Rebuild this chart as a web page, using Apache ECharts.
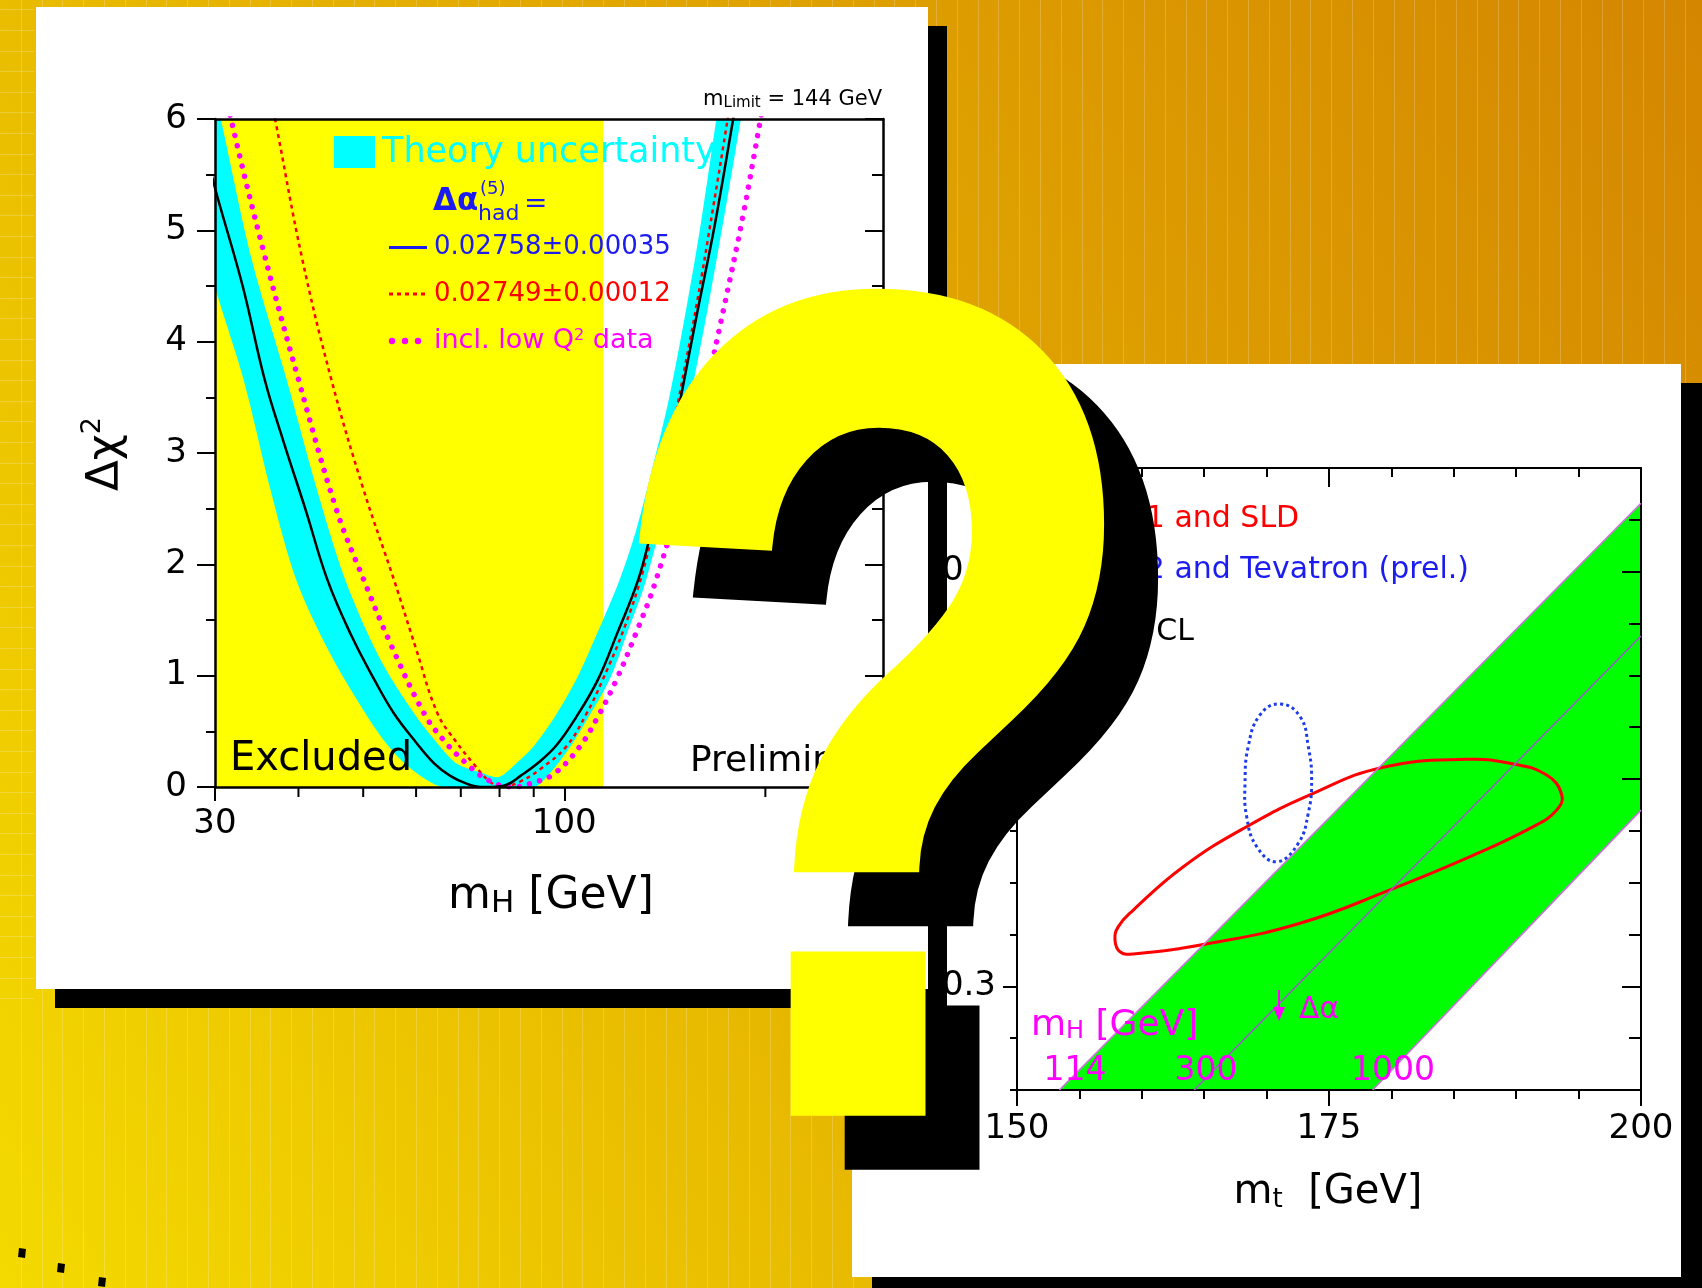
<!DOCTYPE html>
<html><head><meta charset="utf-8">
<script src="https://cdn.jsdelivr.net/npm/echarts@6/dist/echarts.min.js"></script>
<style>html,body{margin:0;padding:0;background:#e4b000;}#c{width:1702px;height:1288px;}</style>
</head><body><div id="c"></div>
<script>
// ================= LEFT CHART DATA  (Δχ² versus m_H, log axis) =================
const mhRange = [30, 300];
const chi2Range = [0, 6];
const mhMinorTicks = [40, 50, 60, 70, 80, 90, 200];
const excludedRange = [30, 114.4];
const curveBlack = [[29,5.75],[30,5.38],[33,4.50],[35.6,3.66],[38,3.10],[41,2.49],[44.2,1.86],[48,1.36],[52,0.96],[55.6,0.66],[60,0.40],[63.9,0.21],[67.5,0.10],[71.4,0.03],[75,0.0],[78,0.0],[82,0.02],[86,0.10],[91.5,0.22],[97.2,0.37],[104,0.62],[112.2,0.96],[120,1.38],[129,1.86],[135,2.30],[140.9,2.74],[147,3.28],[158,4.25],[168,5.05],[179,6.0],[190,6.9]];
const bandOuter = [[28,5.2],[30,4.49],[33.1,3.66],[36.5,2.62],[39.7,1.86],[44.5,1.21],[50.4,0.66],[54,0.40],[57.7,0.21],[62,0.07],[66,0.0],[90,0.0],[95,0.12],[102,0.36],[109,0.64],[116.8,0.96],[124.5,1.40],[132.6,1.86],[144.9,2.76],[155,3.55],[164,4.3],[175,5.25],[185,6.1],[195,6.9]];
const bandInner = [[29,6.6],[30.6,6.0],[34,4.75],[38.4,3.66],[42.5,2.70],[47,1.86],[53,1.15],[59.6,0.66],[64,0.42],[69,0.21],[75,0.13],[79.8,0.09],[85,0.22],[89.8,0.36],[97,0.64],[104.1,0.96],[112,1.38],[121,1.86],[128,2.30],[134.1,2.76],[143,3.45],[152.1,4.28],[160,5.05],[168.9,6.0],[178,6.9]];
const curveRed = [[35.5,6.5],[36.9,6.0],[40.5,4.75],[44.8,3.66],[50,2.68],[55.6,1.86],[60,1.24],[64.6,0.66],[69,0.40],[73.1,0.21],[77,0.06],[80.5,0.0],[86,0.05],[92,0.16],[100.6,0.36],[108,0.66],[114.1,0.96],[123,1.43],[131.3,1.95],[139.5,2.62],[148,3.45],[158,4.35],[167,5.2],[175.6,6.0],[185,6.9]];
const curveMagenta = [[30.5,6.5],[31.7,6.0],[35.5,4.80],[40,3.66],[45.6,2.49],[50.1,1.86],[55,1.28],[61.7,0.66],[66,0.42],[71.4,0.21],[77,0.06],[83.7,0.0],[90,0.04],[96.6,0.12],[105.4,0.36],[112,0.62],[119.6,0.96],[128,1.38],[137.2,1.86],[151.7,2.76],[162,3.5],[173,4.28],[185,5.12],[196.7,6.0],[205,6.6]];

// ================= RIGHT CHART DATA  (m_W versus m_t) =================
const mtRange = [150, 200];
const mwRange = [80.25, 80.55];
const mwTickLabels = [80.3, 80.4, 80.5];
const greenBand = [[153.4,80.25],[200,80.533],[200,80.385],[178.5,80.25]];
const lineMH114 = [[153.4,80.25],[200,80.533]];
const lineMH300 = [[164.2,80.25],[200,80.469]];
const lineMH1000 = [[178.5,80.25],[200,80.385]];
const contourLEP1SLD = [[172.68,80.3304],[179.89,80.3465],[186.03,80.3618],[191.37,80.3770],[193.25,80.3851],[193.65,80.3923],[192.44,80.4019],[189.5,80.4076],[186.03,80.4095],[179.35,80.4057],[173.74,80.3931],[168.4,80.3770],[163.33,80.3577],[159.32,80.3368],[158.12,80.3288],[157.85,80.3223],[158.25,80.3167],[159.32,80.3156],[165.47,80.3208]];
const contourLEP2Tev = [[173.61,80.3995],[173.34,80.4157],[172.68,80.4301],[171.07,80.4362],[169.47,80.4309],[168.53,80.4157],[168.27,80.3979],[168.4,80.3819],[169.21,80.3674],[170.81,80.3601],[172.54,80.3690],[173.34,80.3835]];

// ================= RENDER =================
const W = 1702, H = 1288;
const FONT = "'DejaVu Sans', sans-serif";
const chart = echarts.init(document.getElementById('c'), null, {renderer:'canvas', width:W, height:H});

function clipGroup(params, children){
  const cs = params.coordSys;
  return {type:'group', clipPath:{type:'rect', shape:{x:cs.x, y:cs.y, width:cs.width, height:cs.height}}, children};
}
const noAxis = {axisLine:{show:false}, axisTick:{show:false}, axisLabel:{show:false}, splitLine:{show:false}};
const lineS = (w)=>({color:'#000', width:w});

const deco = [];
// background
deco.push({type:'rect', z:0, silent:true, shape:{x:0,y:0,width:W,height:H},
  style:{fill:{type:'linear', x:0, y:H, x2:1802, y2:155, global:true,
    colorStops:[{offset:0,color:'#f4da00'},{offset:0.5,color:'#e3ac00'},{offset:1,color:'#d48600'}]}}});
for (let k=1; k*20.8 < W; k++) deco.push({type:'rect', z:1, silent:true, shape:{x:Math.round(k*20.8), y:0, width:1, height:H}, style:{fill:'rgba(255,255,255,0.2)'}});
for (let k=0; 9.4+k*20.6 < 1000; k++) deco.push({type:'rect', z:1, silent:true, shape:{x:0, y:Math.round(9.4+k*20.6), width:34, height:1}, style:{fill:'rgba(255,255,255,0.2)'}});
// dots bottom-left
[[22,1253],[61,1268],[102,1282]].forEach(c=>deco.push({type:'polygon', z:1, silent:true, shape:{points:[[c[0]-3,c[1]-5],[c[0]+4,c[1]-4],[c[0]+3,c[1]+5],[c[0]-4,c[1]+4]]}, style:{fill:'#000'}}));
// panels
deco.push({type:'rect', z:2, silent:true, shape:{x:872,y:383,width:830,height:920}, style:{fill:'#000'}});
deco.push({type:'rect', z:3, silent:true, shape:{x:852,y:364,width:829,height:913}, style:{fill:'#fff'}});
deco.push({type:'rect', z:7, silent:true, shape:{x:55,y:26,width:892,height:982}, style:{fill:'#000'}});
deco.push({type:'rect', z:8, silent:true, shape:{x:36,y:7,width:892,height:982}, style:{fill:'#fff'}});

const T = (o)=>Object.assign({type:'text', silent:true}, o);
// ---- left chart texts ----
deco.push({type:'rect', z:13, silent:true, shape:{x:334,y:136,width:41,height:32}, style:{fill:'#00ffff'}});
deco.push(T({z:13, x:382, y:153, style:{text:'Theory uncertainty', fontSize:35, fontFamily:FONT, fill:'#00ffff', align:'left', verticalAlign:'middle'}}));
deco.push(T({z:13, x:433, y:202, style:{text:'Δα', fontSize:31, fontWeight:'bold', fontFamily:FONT, fill:'#1c1cf0', align:'left', verticalAlign:'middle'}}));
deco.push(T({z:13, x:480, y:189, style:{text:'(5)', fontSize:18, fontFamily:FONT, fill:'#1c1cf0', align:'left', verticalAlign:'middle'}}));
deco.push(T({z:13, x:478, y:214, style:{text:'had', fontSize:22, fontFamily:FONT, fill:'#1c1cf0', align:'left', verticalAlign:'middle'}}));
deco.push(T({z:13, x:524, y:205, style:{text:'=', fontSize:28, fontFamily:FONT, fill:'#1c1cf0', align:'left', verticalAlign:'middle'}}));
deco.push({type:'line', z:13, silent:true, shape:{x1:389,y1:247.5,x2:427,y2:247.5}, style:{stroke:'#1c1cf0', lineWidth:3}});
deco.push(T({z:13, x:434, y:247, style:{text:'0.02758±0.00035', fontSize:26, fontFamily:FONT, fill:'#1c1cf0', align:'left', verticalAlign:'middle'}}));
deco.push({type:'line', z:13, silent:true, shape:{x1:389,y1:294,x2:425,y2:294}, style:{stroke:'#ff0000', lineWidth:3, lineDash:[4,4]}});
deco.push(T({z:13, x:434, y:294, style:{text:'0.02749±0.00012', fontSize:26, fontFamily:FONT, fill:'#ff0000', align:'left', verticalAlign:'middle'}}));
[392,405,418].forEach(cx=>deco.push({type:'circle', z:13, silent:true, shape:{cx, cy:341, r:3.2}, style:{fill:'#ff00ff'}}));
deco.push(T({z:13, x:434, y:341, style:{text:'{n|incl. low Q}{s|2}{n| data}', fontFamily:FONT, fill:'#ff00ff', align:'left', verticalAlign:'middle',
  rich:{n:{fontSize:27, lineHeight:27, verticalAlign:'bottom', fontFamily:FONT, fill:'#ff00ff'}, s:{fontSize:16, lineHeight:8, verticalAlign:'top', fontFamily:FONT, fill:'#ff00ff'}}}}));
deco.push(T({z:13, x:882, y:100, style:{text:'{n|m}{s|Limit}{n| = 144 GeV}', fontFamily:FONT, fill:'#000', align:'right', verticalAlign:'middle',
  rich:{n:{fontSize:21, lineHeight:21, verticalAlign:'top', fontFamily:FONT, fill:'#000'}, s:{fontSize:15, lineHeight:2, verticalAlign:'bottom', fontFamily:FONT, fill:'#000'}}}}));
deco.push(T({z:13, x:230, y:760, style:{text:'Excluded', fontSize:40, fontFamily:FONT, fill:'#000', align:'left', verticalAlign:'middle'}}));
deco.push(T({z:13, x:690, y:762, style:{text:'Preliminary', fontSize:36, fontFamily:FONT, fill:'#000', align:'left', verticalAlign:'middle'}}));
deco.push(T({z:13, x:551, y:897, style:{text:'{n|m}{s|H}{n| [GeV]}', fontFamily:FONT, fill:'#000', align:'center', verticalAlign:'middle',
  rich:{n:{fontSize:44, lineHeight:44, verticalAlign:'top', fontFamily:FONT, fill:'#000'}, s:{fontSize:31, lineHeight:4, verticalAlign:'bottom', fontFamily:FONT, fill:'#000'}}}}));
deco.push(T({z:13, x:104, y:454, rotation:Math.PI/2, style:{text:'{n|Δχ}{s|2}', fontFamily:FONT, fill:'#000', align:'center', verticalAlign:'middle',
  rich:{n:{fontSize:45, lineHeight:50, verticalAlign:'bottom', fontFamily:FONT, fill:'#000'}, s:{fontSize:27, lineHeight:4, verticalAlign:'top', fontFamily:FONT, fill:'#000'}}}}));
// ---- right chart texts ----
deco.push(T({z:6, x:1092, y:519, style:{text:'LEP1 and SLD', fontSize:30, fontFamily:FONT, fill:'#ff0000', align:'left', verticalAlign:'middle'}}));
deco.push(T({z:6, x:1092, y:570, style:{text:'LEP2 and Tevatron (prel.)', fontSize:30, fontFamily:FONT, fill:'#1c1cf0', align:'left', verticalAlign:'middle'}}));
deco.push(T({z:6, x:1080, y:632, style:{text:'68% CL', fontSize:30, fontFamily:FONT, fill:'#000', align:'left', verticalAlign:'middle'}}));
deco.push(T({z:6, x:1031, y:1026, style:{text:'{n|m}{s|H}{n| [GeV]}', fontFamily:FONT, fill:'#ff00ff', align:'left', verticalAlign:'middle',
  rich:{n:{fontSize:36, lineHeight:36, verticalAlign:'top', fontFamily:FONT, fill:'#ff00ff'}, s:{fontSize:24, lineHeight:4, verticalAlign:'bottom', fontFamily:FONT, fill:'#ff00ff'}}}}));
[['114',1075],['300',1206],['1000',1393]].forEach(t=>deco.push(T({z:6, x:t[1], y:1071, style:{text:t[0], fontSize:33, fontFamily:FONT, fill:'#ff00ff', align:'center', verticalAlign:'middle'}})));
deco.push({type:'line', z:6, silent:true, shape:{x1:1279,y1:990,x2:1279,y2:1014}, style:{stroke:'#ff00ff', lineWidth:2}});
deco.push({type:'polygon', z:6, silent:true, shape:{points:[[1273,1007],[1285,1007],[1279,1021]]}, style:{fill:'#ff00ff'}});
deco.push(T({z:6, x:1299, y:1010, style:{text:'Δα', fontSize:30, fontFamily:FONT, fill:'#ff00ff', align:'left', verticalAlign:'middle'}}));
deco.push(T({z:6, x:1328, y:1193, style:{text:'{n|m}{s|t}{n|  [GeV]}', fontFamily:FONT, fill:'#000', align:'center', verticalAlign:'middle',
  rich:{n:{fontSize:40, lineHeight:40, verticalAlign:'top', fontFamily:FONT, fill:'#000'}, s:{fontSize:26, lineHeight:6, verticalAlign:'bottom', fontFamily:FONT, fill:'#000'}}}}));
// ---- question mark ----
const qm = (dx, dy, fill, z) => T({z, x:877+dx, y:788+dy, scaleX:0.77, style:{text:'?', fontSize:1170, fontWeight:'bold', fontFamily:"'Liberation Sans', Arial, sans-serif", fill, stroke:fill, lineWidth:10, lineJoin:'miter', align:'center', verticalAlign:'middle'}});
deco.push(qm(54, 54, '#000', 20));
deco.push(qm(0, 0, '#ffff00', 21));

const axLab = {fontSize:34, fontFamily:FONT, color:'#000'};
const contourItem = (pts, style) => (params, api) => clipGroup(params, [{type:'polygon', shape:{points:pts.map(p=>api.coord(p)), smooth:0.45}, style}]);
const option = {
  animation:false,
  backgroundColor:'transparent',
  grid:[
    {left:215, top:119, width:668, height:668, outerBoundsMode:'none', containLabel:false, z:9},
    {left:1017, top:468, width:624, height:622, outerBoundsMode:'none', containLabel:false, z:4}
  ],
  xAxis:[
    {gridIndex:0, type:'log', logBase:10, min:mhRange[0], max:mhRange[1], position:'bottom', z:12,
     axisLine:{show:true, onZero:false, lineStyle:lineS(2.5)}, axisTick:{show:true, inside:false, length:14, lineStyle:lineS(2)},
     axisLabel:Object.assign({show:true, margin:20, showMinLabel:true, showMaxLabel:true}, axLab), splitLine:{show:false}, minorTick:{show:false}},
    Object.assign({gridIndex:0, type:'log', logBase:10, min:mhRange[0], max:mhRange[1], position:'top', z:12}, noAxis, {axisLine:{show:true, onZero:false, lineStyle:lineS(2.5)}}),
    {gridIndex:1, type:'value', min:mtRange[0], max:mtRange[1], interval:25, position:'bottom', z:5,
     axisLine:{show:true, onZero:false, lineStyle:lineS(2)}, axisTick:{show:true, inside:false, length:16, lineStyle:lineS(2)},
     axisLabel:Object.assign({show:true, margin:22, showMinLabel:true, showMaxLabel:true}, axLab), splitLine:{show:false}},
    Object.assign({gridIndex:1, type:'value', min:mtRange[0], max:mtRange[1], interval:5, position:'bottom', z:5}, noAxis, {axisTick:{show:true, inside:false, length:9, lineStyle:lineS(2)}}),
    Object.assign({gridIndex:1, type:'value', min:mtRange[0], max:mtRange[1], interval:25, position:'top', z:5}, noAxis, {axisLine:{show:true, onZero:false, lineStyle:lineS(2)}, axisTick:{show:true, inside:true, length:19, lineStyle:lineS(2)}}),
    Object.assign({gridIndex:1, type:'value', min:mtRange[0], max:mtRange[1], interval:5, position:'top', z:5}, noAxis, {axisTick:{show:true, inside:true, length:9, lineStyle:lineS(2)}})
  ],
  yAxis:[
    {gridIndex:0, type:'value', min:chi2Range[0], max:chi2Range[1], interval:1, position:'left', z:12,
     axisLine:{show:true, onZero:false, lineStyle:lineS(2.5)}, axisTick:{show:true, inside:false, length:18, lineStyle:lineS(2)},
     minorTick:{show:true, splitNumber:2, length:9, lineStyle:lineS(2)},
     axisLabel:Object.assign({show:true, margin:28, showMinLabel:true, showMaxLabel:true}, axLab), splitLine:{show:false}},
    Object.assign({gridIndex:0, type:'value', min:chi2Range[0], max:chi2Range[1], interval:1, position:'right', z:12}, noAxis,
     {axisLine:{show:true, onZero:false, lineStyle:lineS(2.5)}, axisTick:{show:true, inside:true, length:18, lineStyle:lineS(2)}, minorTick:{show:true, splitNumber:2, length:11, lineStyle:lineS(2)}}),
    {gridIndex:1, type:'value', min:mwRange[0], max:mwRange[1], position:'left', z:5,
     axisLine:{show:true, onZero:false, lineStyle:lineS(2)}, axisTick:{show:true, inside:false, length:14, customValues:mwTickLabels, lineStyle:lineS(2)},
     axisLabel:Object.assign({show:true, margin:21, customValues:mwTickLabels, formatter:(v)=>Number(v).toFixed(1)}, axLab), splitLine:{show:false}},
    Object.assign({gridIndex:1, type:'value', min:mwRange[0], max:mwRange[1], interval:0.025, position:'left', z:5}, noAxis, {axisTick:{show:true, inside:false, length:7, lineStyle:lineS(2)}}),
    Object.assign({gridIndex:1, type:'value', min:mwRange[0], max:mwRange[1], position:'right', z:5}, noAxis,
     {axisLine:{show:true, onZero:false, lineStyle:lineS(2)}, axisTick:{show:true, inside:true, length:19, customValues:mwTickLabels, lineStyle:lineS(2)}}),
    Object.assign({gridIndex:1, type:'value', min:mwRange[0], max:mwRange[1], interval:0.025, position:'right', z:5}, noAxis, {axisTick:{show:true, inside:true, length:12, lineStyle:lineS(2)}})
  ],
  graphic:{elements:deco},
  series:[
    // ---- left chart ----
    {type:'custom', xAxisIndex:0, yAxisIndex:0, z:9, silent:true, data:[[excludedRange[0], chi2Range[1]]],
     renderItem:(params, api)=>{
       const p0 = api.coord([excludedRange[0], chi2Range[1]]), p1 = api.coord([excludedRange[1], chi2Range[0]]);
       return {type:'rect', shape:{x:p0[0], y:p0[1], width:p1[0]-p0[0], height:p1[1]-p0[1]}, style:{fill:'#ffff00'}};
     }},
    {type:'custom', xAxisIndex:0, yAxisIndex:0, z:10, silent:true, data:[[60,1]],
     renderItem:(params, api)=>{
       const pts = bandOuter.map(p=>api.coord(p)).concat(bandInner.slice().reverse().map(p=>api.coord(p)));
       return clipGroup(params, [{type:'polygon', shape:{points:pts, smooth:0.3}, style:{fill:'#00ffff'}}]);
     }},
    {type:'line', xAxisIndex:0, yAxisIndex:0, z:11, data:curveRed, smooth:0.4, symbol:'none', clip:true, silent:true,
     lineStyle:{color:'#ff0000', width:2.5, type:[4,4]}},
    {type:'line', xAxisIndex:0, yAxisIndex:0, z:11, data:curveMagenta, smooth:0.4, symbol:'none', clip:true, silent:true,
     lineStyle:{color:'#ff00ff', width:5.5, type:[0.01,10.5], cap:'round'}},
    {type:'line', xAxisIndex:0, yAxisIndex:0, z:11, data:curveBlack, smooth:0.4, symbol:'none', clip:true, silent:true,
     lineStyle:{color:'#000', width:2.5}},
    {type:'custom', xAxisIndex:0, yAxisIndex:0, z:12, silent:true, clip:false, data:mhMinorTicks.map(v=>[v, chi2Range[0]]),
     renderItem:(params, api)=>{
       const p = api.coord([api.value(0), chi2Range[0]]);
       return {type:'line', shape:{x1:p[0], y1:p[1], x2:p[0], y2:p[1]+10}, style:{stroke:'#000', lineWidth:2}};
     }},
    // ---- right chart ----
    {type:'custom', xAxisIndex:2, yAxisIndex:2, z:4, silent:true, data:[[175,80.4]],
     renderItem:(params, api)=>clipGroup(params, [{type:'polygon', shape:{points:greenBand.map(p=>api.coord(p))}, style:{fill:'#00ff00'}}])},
    {type:'line', xAxisIndex:2, yAxisIndex:2, z:5, data:lineMH114, symbol:'none', silent:true, lineStyle:{color:'#d070e0', width:1.6}},
    {type:'line', xAxisIndex:2, yAxisIndex:2, z:5, data:lineMH300, symbol:'none', silent:true, lineStyle:{color:'#9b5bc8', width:1.6}},
    {type:'line', xAxisIndex:2, yAxisIndex:2, z:5, data:lineMH1000, symbol:'none', silent:true, lineStyle:{color:'#d070e0', width:1.6}},
    {type:'custom', xAxisIndex:2, yAxisIndex:2, z:5, silent:true, data:[[175,80.37]],
     renderItem:contourItem(contourLEP1SLD, {fill:null, stroke:'#ff0000', lineWidth:3})},
    {type:'custom', xAxisIndex:2, yAxisIndex:2, z:5, silent:true, data:[[171,80.4]],
     renderItem:contourItem(contourLEP2Tev, {fill:null, stroke:'#1c3ce8', lineWidth:3, lineDash:[3,3.2]})}
  ]
};
chart.setOption(option);
</script></body></html>
